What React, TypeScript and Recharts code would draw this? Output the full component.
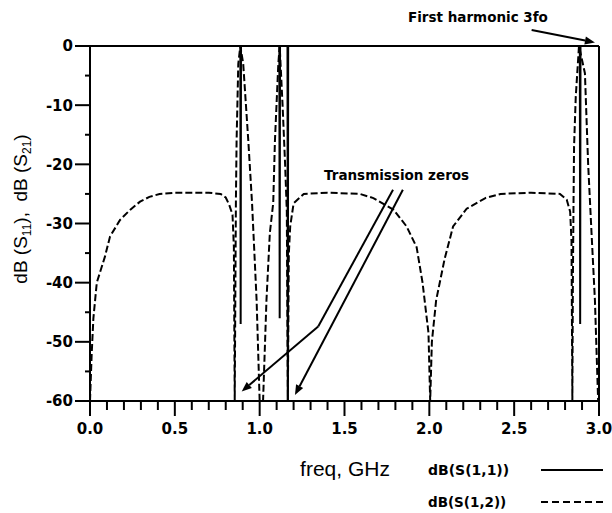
import React from 'react';
import { LineChart, Line, XAxis, YAxis, ReferenceLine } from 'recharts';

// dB(S(1,1)) – solid trace
const s11Freq = [0, 0.886, 0.888, 0.89, 1.116, 1.118, 1.12, 1.164, 1.166, 1.168, 2.887, 2.889, 2.891, 3.0];
const s11Db = [0, 0, -47, 0, 0, -46, 0, 0, -60, 0, 0, -47, 0, 0];

// dB(S(1,2)) – dashed trace
const s12Freq = [
  0, 0.01, 0.02, 0.04, 0.088, 0.118, 0.177, 0.236, 0.295, 0.35, 0.41, 0.5, 0.6, 0.7, 0.77, 0.8, 0.82, 0.84,
  0.848, 0.853, 0.857, 0.86, 0.864, 0.874, 0.886, 0.903, 0.933, 0.955, 0.982, 1.0, 1.02, 1.04, 1.06, 1.08,
  1.09, 1.11, 1.118, 1.135, 1.15, 1.16, 1.166, 1.172, 1.18, 1.2, 1.26, 1.4, 1.59, 1.67, 1.79, 1.866, 1.925,
  1.96, 1.995, 2.005, 2.015, 2.04, 2.09, 2.14, 2.22, 2.33, 2.42, 2.6, 2.77, 2.81, 2.83, 2.838, 2.843, 2.846,
  2.85, 2.853, 2.863, 2.882, 2.917, 2.936, 2.956, 2.976, 2.995,
];
const s12Db = [
  -60, -52, -46, -40, -35.6, -32.2, -29.4, -27.7, -26.3, -25.5, -25, -24.8, -24.8, -24.8, -25, -25.6, -26.8, -28.5,
  -34, -60, -40, -26, -16, -3, 0, -3, -16, -26.5, -43, -60, -60, -43, -31.6, -26.5,
  -16, -3, 0, -10, -20, -28, -60, -35, -30.5, -26.6, -25, -24.8, -25, -25.7, -27.7, -30.5, -34,
  -40, -48.5, -60, -50, -43, -36, -30.5, -27.5, -25.7, -25, -24.8, -25, -26, -28, -33, -60, -40,
  -26, -17, -8.6, 0, -4.6, -20, -31.6, -43, -60,
];

const xTicks = [
  0, 0.1, 0.2, 0.3, 0.4, 0.5, 0.6, 0.7, 0.8, 0.9, 1.0, 1.1, 1.2, 1.3, 1.4, 1.5, 1.6, 1.7, 1.8, 1.9, 2.0,
  2.1, 2.2, 2.3, 2.4, 2.5, 2.6, 2.7, 2.8, 2.9, 3.0,
];
const yTicks = [-60, -55, -50, -45, -40, -35, -30, -25, -20, -15, -10, -5, 0];

// annotation arrows, in data units (freq, dB)
const zeroArrowA = [{ x: 1.786, y: -24.3 }, { x: 1.345, y: -47.4 }, { x: 0.894, y: -58.4 }];
const zeroArrowB = [{ x: 1.844, y: -24.3 }, { x: 1.208, y: -59.0 }];
const harmonicArrow = [{ x: 2.603, y: 2.7 }, { x: 2.976, y: 0.6 }];

const s11Data = s11Freq.map((f, i) => ({ f, v: s11Db[i] }));
const s12Data = s12Freq.map((f, i) => ({ f, v: s12Db[i] }));

const tickFont = '"DejaVu Sans", sans-serif';

const XTick = (props: any) => {
  const { x, y, payload } = props;
  const v = payload.value;
  const major = Math.abs(v * 2 - Math.round(v * 2)) < 1e-6;
  return (
    <g>
      <line x1={x} x2={x} y1={y} y2={y + (major ? 15 : 9)} stroke="#000" strokeWidth={2} />
      {major && (
        <text x={x} y={y + 28} dy="0.36em" textAnchor="middle" fontFamily={tickFont} fontWeight="bold" fontSize={15} fill="#000">
          {v.toFixed(1)}
        </text>
      )}
    </g>
  );
};

const YTick = (props: any) => {
  const { x, y, payload } = props;
  const v = payload.value;
  const major = v % 10 === 0;
  return (
    <g>
      <line x1={x - (major ? 15 : 5)} x2={x} y1={y} y2={y} stroke="#000" strokeWidth={2} />
      {major && (
        <text x={x - 17} y={y} dy="0.36em" textAnchor="end" fontFamily={tickFont} fontWeight="bold" fontSize={15} fill="#000">
          {v}
        </text>
      )}
    </g>
  );
};

const arrow = (head: boolean) => (p: any) => {
  const { x1, y1, x2, y2 } = p;
  if (!head) return <line x1={x1} y1={y1} x2={x2} y2={y2} stroke="#000" strokeWidth={2} />;
  const a = Math.atan2(y2 - y1, x2 - x1);
  const L = 10;
  const W = 4;
  const bx = x2 - L * Math.cos(a);
  const by = y2 - L * Math.sin(a);
  const px = -Math.sin(a) * W;
  const py = Math.cos(a) * W;
  return (
    <g>
      <line x1={x1} y1={y1} x2={bx} y2={by} stroke="#000" strokeWidth={2} />
      <polygon points={`${x2},${y2} ${bx + px},${by + py} ${bx - px},${by - py}`} fill="#000" />
    </g>
  );
};

export default function App() {
  return (
    <div style={{ position: 'absolute', left: 0, top: 0, width: 612, height: 513, background: '#fff' }}>
      <LineChart width={612} height={513} margin={{ top: 46, right: 13, bottom: 72, left: 0 }}>
        <XAxis
          type="number"
          dataKey="f"
          domain={[0, 3]}
          ticks={xTicks}
          interval={0}
          tickSize={0}
          tickMargin={0}
          tick={<XTick />}
          axisLine={{ stroke: '#000', strokeWidth: 2 }}
          height={40}
          allowDataOverflow
        />
        <YAxis
          type="number"
          domain={[-60, 0]}
          ticks={yTicks}
          interval={0}
          tickSize={0}
          tickMargin={0}
          tick={<YTick />}
          axisLine={{ stroke: '#000', strokeWidth: 2 }}
          width={90}
          allowDataOverflow
        />
        <ReferenceLine x={3} stroke="#000" strokeWidth={2} />
        <ReferenceLine y={0} stroke="#000" strokeWidth={2} />
        <Line data={s12Data} dataKey="v" type="linear" stroke="#000" strokeWidth={2} strokeDasharray="7 3" dot={false} isAnimationActive={false} />
        <Line data={s11Data} dataKey="v" type="linear" stroke="#000" strokeWidth={2} dot={false} isAnimationActive={false} />
        <ReferenceLine segment={[zeroArrowA[0], zeroArrowA[1]]} ifOverflow="visible" shape={arrow(false)} />
        <ReferenceLine segment={[zeroArrowA[1], zeroArrowA[2]]} ifOverflow="visible" shape={arrow(true)} />
        <ReferenceLine segment={[zeroArrowB[0], zeroArrowB[1]]} ifOverflow="visible" shape={arrow(true)} />
        <ReferenceLine segment={[harmonicArrow[0], harmonicArrow[1]]} ifOverflow="visible" shape={arrow(true)} />
      </LineChart>
      <svg width={612} height={513} style={{ position: 'absolute', left: 0, top: 0, pointerEvents: 'none' }}>
        <text x={408} y={17} dy="0.36em" fontFamily={tickFont} fontWeight="bold" fontSize={13.5} fill="#000">
          First harmonic 3fo
        </text>
        <text x={324} y={175} dy="0.36em" fontFamily={tickFont} fontWeight="bold" fontSize={13.5} fill="#000">
          Transmission zeros
        </text>
        <text
          x={20}
          y={209}
          transform="rotate(-90 20 209)"
          textAnchor="middle"
          dy="0.36em"
          fontFamily='"Liberation Sans", Arial, sans-serif'
          fontSize={19}
          fill="#000"
          style={{ whiteSpace: 'pre' }}
        >
          dB (S<tspan fontSize={12} dy={4}>11</tspan>
          <tspan dy={-4}>),  dB (S</tspan>
          <tspan fontSize={12} dy={4}>21</tspan>
          <tspan dy={-4}>)</tspan>
        </text>
        <text x={345} y={468} dy="0.36em" textAnchor="middle" fontFamily='"Liberation Sans", Arial, sans-serif' fontSize={21} fill="#000">
          freq, GHz
        </text>
        <text x={428} y={470} dy="0.36em" fontFamily={tickFont} fontWeight="bold" fontSize={14} fill="#000">
          dB(S(1,1))
        </text>
        <line x1={541} x2={603} y1={470} y2={470} stroke="#000" strokeWidth={2} />
        <text x={428} y={502} dy="0.36em" fontFamily={tickFont} fontWeight="bold" fontSize={13.5} fill="#000">
          dB(S(1,2))
        </text>
        <line x1={541} x2={603} y1={502} y2={502} stroke="#000" strokeWidth={2} strokeDasharray="7 4" />
      </svg>
    </div>
  );
}
